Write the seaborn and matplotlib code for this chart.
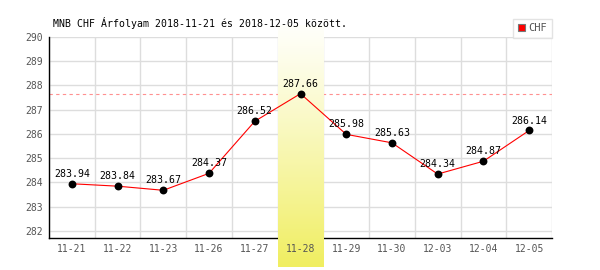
import numpy as np
import pandas as pd
import matplotlib
matplotlib.use("Agg")
import matplotlib.pyplot as plt
import seaborn as sns
from matplotlib.patches import Patch

dates = ["11-21", "11-22", "11-23", "11-26", "11-27", "11-28",
         "11-29", "11-30", "12-03", "12-04", "12-05"]
rates = [283.94, 283.84, 283.67, 284.37, 286.52, 287.66,
         285.98, 285.63, 284.34, 284.87, 286.14]
y_ticks = [282, 283, 284, 285, 286, 287, 288, 289, 290]
title = "MNB CHF Árfolyam 2018-11-21 és 2018-12-05 között."
series_name = "CHF"
highlight = "11-28"

sns.set_style("white")
plt.rcParams['font.family'] = ['DejaVu Sans Mono', 'DejaVu Sans']

df = pd.DataFrame({"pos": np.arange(len(dates)), "date": dates, "rate": rates})

W, H = 600, 270
fig = plt.figure(figsize=(W / 100, H / 100), dpi=100)
fig.patch.set_facecolor("white")
ax = fig.add_axes([49 / W, (H - 238) / H, 503 / W, (238 - 37) / H])
ax.set_facecolor("white")
ax.grid(False)

xlim = (-0.5, len(dates) - 0.5)
ylim = (281.70, 290)

# grid (manual so the highlight band can cover it)
for t in y_ticks:
    ax.axhline(t, color="#dddddd", lw=1, zorder=1)
for b in np.arange(-0.5, len(dates), 1.0):
    ax.axvline(b, color="#dddddd", lw=1, zorder=1)

# max reference dashed line
ax.axhline(max(rates), color="#ff9090", lw=0.8, ls=(0, (3, 3)), zorder=1.5)

# highlight band with vertical gradient
idx = dates.index(highlight)
n = 256
top = np.array([255, 255, 250]) / 255
bot = np.array([240, 238, 96]) / 255
frac = np.linspace(0, 1, n)[:, None] ** 1.15
grad = (top[None, :] * (1 - frac) + bot[None, :] * frac)[:, None, :]
y_lo = (238 - 267) / 201
y_hi = (238 - 26) / 201
im = ax.imshow(grad, extent=(idx - 0.5, idx + 0.5, y_lo, y_hi),
               transform=ax.get_xaxis_transform(), aspect="auto",
               zorder=2.6, interpolation="bilinear")
im.set_clip_on(False)

# data
sns.lineplot(data=df, x="pos", y="rate", color="red", lw=0.8, ax=ax,
             zorder=4, legend=False)
sns.scatterplot(data=df, x="pos", y="rate", color="black", s=32,
                linewidth=0, ax=ax, zorder=5, legend=False)
for p, r in zip(df["pos"], df["rate"]):
    ax.annotate(f"{r:.2f}", (p, r), xytext=(0, 3.5), textcoords="offset points",
                ha="center", va="bottom", fontsize=7.1, color="black", zorder=6)

ax.set_xlim(*xlim)
ax.set_ylim(*ylim)
ax.set_xticks(df["pos"])
ax.set_xticklabels(dates)
ax.set_yticks(y_ticks)
ax.set_yticklabels([str(t) for t in y_ticks])
ax.set_xlabel("")
ax.set_ylabel("")
ax.tick_params(axis="both", length=0, labelsize=7.0, labelcolor="#555555")
ax.tick_params(axis="x", pad=4.5)
ax.tick_params(axis="y", pad=4.5)
ax.xaxis.set_zorder(3)
ax.yaxis.set_zorder(3)

for s in ["top", "right"]:
    ax.spines[s].set_visible(False)
for s in ["left", "bottom"]:
    ax.spines[s].set_color("black")
    ax.spines[s].set_linewidth(1)

# title
fig.text(53 / W, 1 - 23 / H, title, ha="left", va="center", fontsize=7.1,
         color="black")

# legend
handle = Patch(facecolor="red", edgecolor="#777777", lw=0.8)
leg = ax.legend(handles=[handle], labels=[series_name], loc="lower right",
                bbox_to_anchor=(552 / W, (H - 38) / H),
                bbox_transform=fig.transFigure, frameon=True, fancybox=False,
                edgecolor="#dddddd", fontsize=7.5, handlelength=0.7,
                handleheight=0.7, handletextpad=0.3, borderpad=0.45,
                borderaxespad=0)
leg.get_frame().set_linewidth(1)
for t in leg.get_texts():
    t.set_color("#555555")
leg.set_zorder(7)

fig.savefig("out.png", dpi=100)
